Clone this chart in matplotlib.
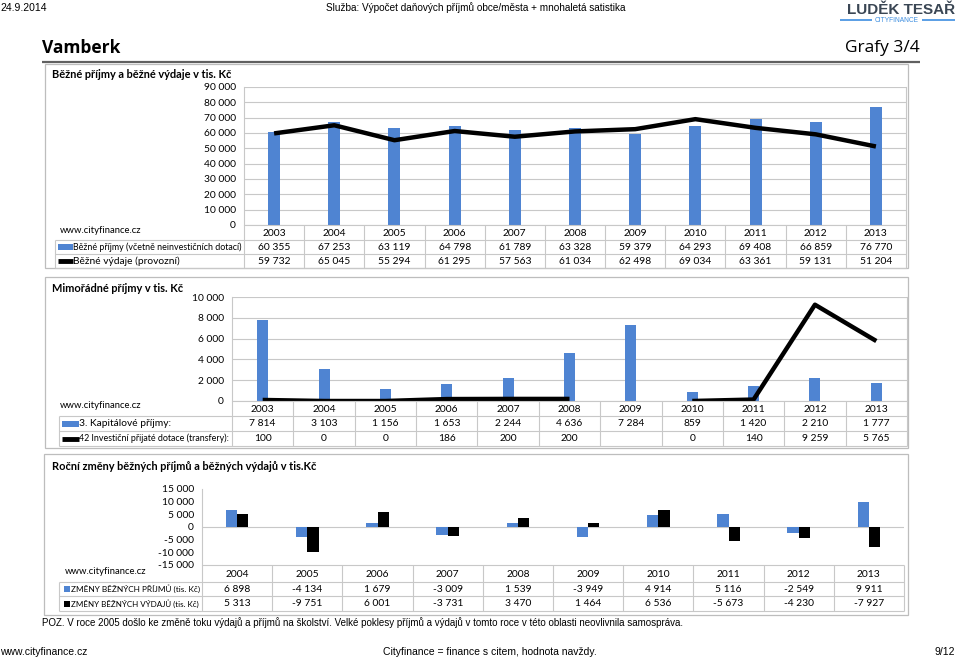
import numpy as np
import matplotlib
matplotlib.use("Agg")
import matplotlib.pyplot as plt
from matplotlib.lines import Line2D
from matplotlib.patches import Rectangle

# data
years1 = ["2003", "2004", "2005", "2006", "2007", "2008", "2009", "2010", "2011", "2012", "2013"]
bezne_prijmy = [60355, 67253, 63119, 64798, 61789, 63328, 59379, 64293, 69408, 66859, 76770]
bezne_vydaje = [59732, 65045, 55294, 61295, 57563, 61034, 62498, 69034, 63361, 59131, 51204]

kapitalove = [7814, 3103, 1156, 1653, 2244, 4636, 7284, 859, 1420, 2210, 1777]
inv_dotace = [100, 0, 0, 186, 200, 200, np.nan, 0, 140, 9259, 5765]

years3 = ["2004", "2005", "2006", "2007", "2008", "2009", "2010", "2011", "2012", "2013"]
zmeny_prijmu = [6898, -4134, 1679, -3009, 1539, -3949, 4914, 5116, -2549, 9911]
zmeny_vydaju = [5313, -9751, 6001, -3731, 3470, 1464, 6536, -5673, -4230, -7927]

W, H = 960, 661
BLUE = "#4f84d2"
GRID = "#c8c8c8"
BODY = ["Lato", "DejaVu Sans"]
NARROW = ["Liberation Sans Narrow", "Liberation Sans", "DejaVu Sans"]
NUM = 7.4

fig = plt.figure(figsize=(W / 100, H / 100), dpi=100)
fig.patch.set_facecolor("white")
renderer = fig.canvas.get_renderer()


def fx(x):
    return x / W


def fy(y):
    return 1 - y / H


def rect(x0, y0, x1, y1):
    return [fx(x0), fy(y1), (x1 - x0) / W, (y1 - y0) / H]


def line(x0, y0, x1, y1, color=GRID, lw=0.8):
    fig.add_artist(Line2D([fx(x0), fx(x1)], [fy(y0), fy(y1)], transform=fig.transFigure,
                          color=color, lw=lw, solid_capstyle="butt"))


def text(x, y, s, **kw):
    kw.setdefault("va", "center")
    kw.setdefault("family", BODY)
    kw.setdefault("fontsize", NUM)
    return fig.text(fx(x), fy(y), s, **kw)


def fit(t, maxw):
    w = t.get_window_extent(renderer).width
    if w > maxw:
        t.set_fontsize(t.get_fontsize() * maxw / w)


def fmt(v):
    if v is None or (isinstance(v, float) and np.isnan(v)):
        return ""
    return "{:,}".format(int(v)).replace(",", " ")


def box(x0, y0, x1, y1):
    fig.add_artist(Rectangle((fx(x0), fy(y1)), (x1 - x0) / W, (y1 - y0) / H,
                             transform=fig.transFigure, fill=False, ec="#bdbdbd", lw=0.9))


def table(left, right, row_left, ys, years, rows, labels, swatches, label_x):
    n = len(years)
    cw = (right - left) / n
    for i in range(n + 1):
        line(left + i * cw, ys[0], left + i * cw, ys[-1])
    line(left, ys[0], right, ys[0])
    for y in ys[1:]:
        line(row_left, y, right, y)
    line(row_left, ys[1], row_left, ys[-1])
    for i, yr in enumerate(years):
        text(left + (i + 0.5) * cw, (ys[0] + ys[1]) / 2 + 1, yr, ha="center")
    for r, (vals, lab, sw) in enumerate(zip(rows, labels, swatches)):
        yc = (ys[r + 1] + ys[r + 2]) / 2
        for i, v in enumerate(vals):
            text(left + (i + 0.5) * cw, yc, fmt(v), ha="center")
        t = text(label_x, yc, lab, ha="left", fontsize=NUM)
        fit(t, left - label_x - 3)
        sx = row_left + 3
        if sw == "bar":
            fig.add_artist(Rectangle((fx(sx), fy(yc + 3)), (label_x - sx) / W, 6 / H,
                                     transform=fig.transFigure, color=BLUE, lw=0))
        elif sw == "line":
            line(sx, yc, label_x, yc, color="black", lw=3.5)
        elif sw == "sq_blue":
            fig.add_artist(Rectangle((fx(sx + 2), fy(yc + 3)), 6 / W, 6 / H,
                                     transform=fig.transFigure, color=BLUE, lw=0))
        elif sw == "sq_black":
            fig.add_artist(Rectangle((fx(sx + 2), fy(yc + 3)), 6 / W, 6 / H,
                                     transform=fig.transFigure, color="black", lw=0))


def style_axes(ax, ticks, grid=True):
    ax.set_facecolor("none")
    ax.set_xticks([])
    ax.set_yticks(ticks)
    ax.set_yticklabels([fmt(t) for t in ticks], family=BODY, fontsize=NUM)
    ax.tick_params(axis="y", length=0, pad=5.8)
    for s in ["top", "bottom"]:
        ax.spines[s].set_visible(False)
    for s in ["left", "right"]:
        ax.spines[s].set_color(GRID)
        ax.spines[s].set_linewidth(0.8)
    if grid:
        ax.yaxis.grid(True, color=GRID, lw=0.8)
    ax.set_axisbelow(True)


# header
text(0, 8, "24.9.2014", family=NARROW, fontsize=7.5)
text(476, 8, "Služba: Výpočet daňových příjmů obce/města + mnohaletá satistika",
     family=NARROW, fontsize=7.2, ha="center")
text(955, 10.5, "LUDĚK TESAŘ", family=NARROW, fontsize=11, weight="bold", ha="right", color="#3a4654")
text(897, 20, "CITYFINANCE", family=NARROW, fontsize=4.8, ha="center", color="#3d8ee0")
line(840, 20, 872, 20, color="#3d8ee0", lw=1.2)
line(922, 20, 955, 20, color="#3d8ee0", lw=1.2)

text(42, 48, "Vamberk", fontsize=12.5, family=["Open Sans", "DejaVu Sans"], weight="bold")
text(920, 48, "Grafy 3/4", fontsize=12.5, family=["Open Sans", "DejaVu Sans"], ha="right")
line(42, 62, 920, 62, color="#606060", lw=1.6)

# panel 1
box(45, 64, 908, 268)
text(52, 75, "Běžné příjmy a běžné výdaje v tis. Kč", weight="bold", fontsize=7.9)
text(60, 230, "www.cityfinance.cz", fontsize=6.8)
ax1 = fig.add_axes(rect(244, 87, 906, 225))
x1 = np.arange(len(years1))
ax1.bar(x1, bezne_prijmy, width=0.2, color=BLUE)
ax1.plot(x1, bezne_vydaje, color="black", lw=3.2, solid_capstyle="butt")
ax1.set_xlim(-0.5, len(years1) - 0.5)
ax1.set_ylim(0, 90000)
style_axes(ax1, list(range(0, 90001, 10000)))
table(244, 906, 55, [225, 240, 254, 268], years1, [bezne_prijmy, bezne_vydaje],
      ["Běžné příjmy (včetně neinvestičních dotací)", "Běžné výdaje (provozní)"],
      ["bar", "line"], 73)

# panel 2
box(45, 277, 908, 448)
text(52, 288, "Mimořádné příjmy v tis. Kč", weight="bold", fontsize=7.9)
text(60, 406, "www.cityfinance.cz", fontsize=6.8)
ax2 = fig.add_axes(rect(232, 297, 907, 401))
x2 = np.arange(len(years1))
ax2.bar(x2, kapitalove, width=0.18, color=BLUE)
ax2.plot(x2, inv_dotace, color="black", lw=3.2, solid_capstyle="butt")
ax2.set_xlim(-0.5, len(years1) - 0.5)
ax2.set_ylim(0, 10000)
style_axes(ax2, list(range(0, 10001, 2000)))
table(232, 907, 59, [401, 416, 431, 446], years1, [kapitalove, inv_dotace],
      ["3. Kapitálové příjmy:", "42 Investiční přijaté dotace (transfery):"],
      ["bar", "line"], 79)

# panel 3
box(44, 454, 908, 615)
text(52, 467, "Roční změny běžných příjmů a běžných výdajů v tis.Kč", weight="bold", fontsize=7.9)
text(65, 572, "www.cityfinance.cz", fontsize=6.8)
ax3 = fig.add_axes(rect(202, 489, 904, 565))
x3 = np.arange(len(years3))
ax3.bar(x3 - 0.08, zmeny_prijmu, width=0.16, color=BLUE)
ax3.bar(x3 + 0.08, zmeny_vydaju, width=0.16, color="black")
ax3.axhline(0, color=GRID, lw=0.8, zorder=0)
ax3.set_xlim(-0.5, len(years3) - 0.5)
ax3.set_ylim(-15000, 15000)
style_axes(ax3, list(range(15000, -15001, -5000)), grid=False)
ax3.spines["right"].set_visible(False)
table(202, 904, 59, [565, 582, 596, 611], years3, [zmeny_prijmu, zmeny_vydaju],
      ["ZMĚNY BĚŽNÝCH PŘÍJMŮ (tis. Kč)", "ZMĚNY BĚŽNÝCH VÝDAJŮ (tis. Kč)"],
      ["sq_blue", "sq_black"], 71)

# footer
text(42, 623, "POZ. V roce 2005 došlo ke změně toku výdajů a příjmů na školství. Velké poklesy příjmů a výdajů "
     "v tomto roce v této oblasti neovlivnila samospráva.", family=NARROW, fontsize=7)
text(0, 652, "www.cityfinance.cz", family=NARROW, fontsize=7.5)
text(490, 652, "Cityfinance = finance s citem, hodnota navždy.", family=NARROW, fontsize=7.5, ha="center")
text(955, 652, "9/12", family=NARROW, fontsize=7.5, ha="right")

fig.savefig("out.png", dpi=100, facecolor="white")
